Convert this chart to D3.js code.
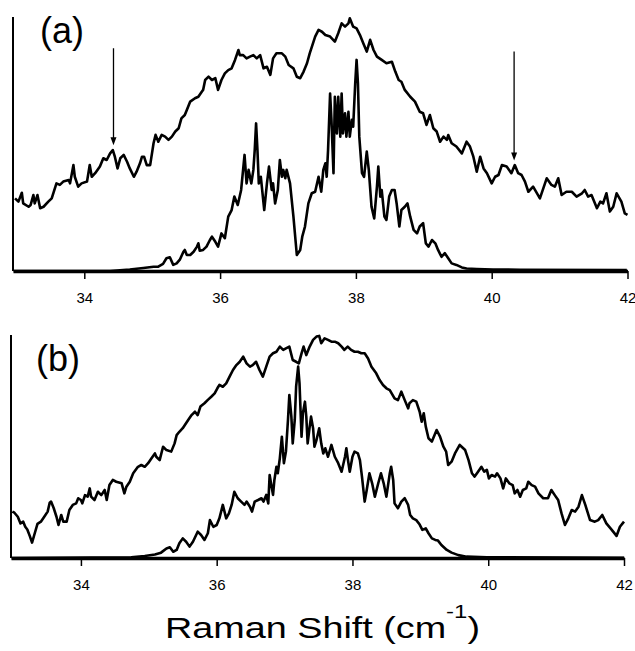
<!DOCTYPE html>
<html>
<head>
<meta charset="utf-8">
<script src="https://cdn.jsdelivr.net/npm/d3@7"></script>
<style>
  body { margin: 0; background: #fff; }
  svg text { font-family: "Liberation Sans", Arial, sans-serif; fill: #000; }
</style>
</head>
<body>
<div id="chart"></div>
<script>
// tick labels (Raman shift, cm^-1)
var xTicks = [34, 36, 38, 40, 42];

// panel (a): broad band (upper) and resolved spectrum (lower), [shift, intensity]
var aBroad = [[32.98,28.6],[33.03,27.3],[33.08,30.8],[33.10,26.6],[33.18,25.3],[33.21,26.0],[33.25,29.9],[33.27,26.6],[33.31,29.9],[33.35,24.7],[33.40,25.3],[33.47,27.3],[33.52,28.6],[33.59,34.5],[33.64,33.9],[33.69,35.2],[33.77,35.8],[33.79,34.5],[33.84,41.7],[33.86,37.1],[33.91,33.2],[33.96,34.5],[34.04,35.2],[34.08,41.7],[34.11,37.1],[34.16,38.5],[34.23,41.1],[34.28,44.4],[34.33,43.7],[34.38,46.3],[34.42,47.6],[34.45,45.0],[34.49,40.4],[34.53,44.4],[34.58,45.7],[34.63,43.0],[34.67,40.4],[34.73,37.1],[34.77,39.1],[34.82,42.4],[34.85,45.0],[34.88,45.0],[34.92,41.7],[34.97,41.7],[35.02,50.3],[35.05,53.6],[35.09,50.9],[35.14,53.6],[35.19,52.9],[35.24,51.6],[35.29,52.9],[35.34,54.9],[35.39,56.2],[35.43,60.1],[35.48,61.4],[35.51,63.4],[35.56,66.7],[35.63,68.0],[35.68,68.6],[35.73,70.6],[35.75,71.3],[35.78,75.2],[35.83,76.5],[35.88,75.2],[35.93,75.9],[35.97,71.3],[36.02,75.2],[36.07,77.8],[36.12,79.1],[36.17,79.8],[36.22,83.1],[36.27,87.0],[36.29,85.0],[36.34,85.0],[36.39,83.7],[36.44,84.4],[36.49,85.0],[36.54,83.7],[36.59,85.0],[36.64,79.8],[36.69,80.4],[36.74,77.2],[36.78,83.7],[36.83,85.7],[36.91,85.7],[36.96,84.4],[37.01,81.1],[37.08,79.8],[37.13,76.5],[37.18,75.9],[37.23,78.5],[37.28,81.8],[37.32,85.7],[37.40,92.3],[37.45,94.9],[37.50,94.2],[37.55,92.9],[37.62,92.3],[37.69,90.3],[37.74,93.6],[37.79,97.5],[37.84,96.2],[37.89,97.5],[37.91,99.5],[37.96,96.2],[38.01,95.5],[38.06,92.9],[38.11,89.6],[38.16,86.4],[38.21,91.0],[38.26,87.0],[38.31,84.4],[38.38,83.1],[38.45,81.8],[38.53,82.4],[38.58,78.5],[38.63,75.2],[38.67,74.5],[38.72,71.3],[38.80,68.6],[38.87,66.7],[38.94,62.7],[38.99,62.1],[39.04,57.5],[39.09,61.4],[39.14,56.2],[39.19,54.9],[39.24,50.9],[39.29,52.9],[39.34,51.6],[39.36,53.5],[39.41,50.3],[39.48,49.0],[39.56,46.3],[39.63,50.9],[39.68,49.0],[39.73,45.0],[39.78,39.1],[39.83,45.0],[39.88,40.4],[39.93,38.5],[40.00,34.5],[40.05,37.1],[40.10,37.8],[40.15,41.7],[40.22,41.1],[40.29,38.5],[40.34,41.7],[40.39,38.5],[40.44,37.8],[40.49,35.2],[40.54,31.2],[40.61,33.2],[40.71,28.6],[40.76,32.5],[40.81,36.5],[40.88,33.9],[40.93,33.2],[40.98,36.5],[41.03,29.9],[41.10,31.2],[41.18,31.2],[41.25,29.3],[41.33,30.6],[41.37,31.9],[41.42,29.3],[41.47,29.9],[41.55,24.7],[41.60,27.3],[41.64,26.6],[41.69,30.6],[41.74,23.4],[41.79,25.3],[41.84,30.6],[41.91,27.3],[41.96,22.7],[42.00,22.1]];

var aSharp = [[32.96,0],[34.38,0],[34.67,0.6],[34.87,1.2],[35.02,1.7],[35.09,1.7],[35.16,2.8],[35.21,5.0],[35.26,5.4],[35.31,2.4],[35.36,3.0],[35.41,4.6],[35.46,7.6],[35.48,8.3],[35.51,6.3],[35.56,6.3],[35.61,7.6],[35.66,9.6],[35.68,10.9],[35.70,8.0],[35.75,8.3],[35.80,9.6],[35.85,12.2],[35.88,13.5],[35.93,11.5],[35.97,9.6],[36.02,14.8],[36.07,12.9],[36.12,21.4],[36.17,24.0],[36.21,29.3],[36.26,26.0],[36.31,31.9],[36.36,45.7],[36.39,34.5],[36.42,39.8],[36.46,34.5],[36.49,39.8],[36.51,47.6],[36.53,58.1],[36.55,47.6],[36.57,34.5],[36.60,37.1],[36.65,24.0],[36.69,34.5],[36.72,41.1],[36.76,31.9],[36.78,34.5],[36.81,26.6],[36.85,31.9],[36.88,43.7],[36.91,37.1],[36.93,39.8],[36.96,36.5],[36.98,39.8],[37.03,34.5],[37.08,21.4],[37.13,6.3],[37.18,8.3],[37.21,13.5],[37.25,17.5],[37.30,26.6],[37.35,30.6],[37.40,31.2],[37.45,37.1],[37.49,31.2],[37.52,39.8],[37.55,42.4],[37.57,37.1],[37.59,47.6],[37.62,69.9],[37.64,59.5],[37.67,38.5],[37.69,68.6],[37.72,54.2],[37.74,68.6],[37.77,52.9],[37.79,69.9],[37.81,54.2],[37.84,62.1],[37.86,52.9],[37.89,62.7],[37.91,52.9],[37.94,59.5],[37.96,56.8],[37.99,73.9],[38.01,83.1],[38.03,73.9],[38.05,52.9],[38.09,38.5],[38.12,37.1],[38.16,47.0],[38.19,39.8],[38.23,25.3],[38.27,20.7],[38.31,33.2],[38.33,41.1],[38.36,29.3],[38.38,31.9],[38.42,21.4],[38.45,20.1],[38.49,29.3],[38.53,31.9],[38.57,31.9],[38.60,26.6],[38.64,17.5],[38.67,24.0],[38.72,25.3],[38.76,26.6],[38.80,21.4],[38.85,16.2],[38.90,14.8],[38.94,17.5],[38.99,18.8],[39.03,10.9],[39.07,9.6],[39.12,12.2],[39.17,10.9],[39.21,8.3],[39.26,5.6],[39.31,7.0],[39.36,5.0],[39.41,3.0],[39.48,2.4],[39.56,1.4],[39.63,1.0],[39.78,0.8],[40.02,0.6],[40.42,0.5],[41.99,0.4]];

// panel (b)
var bBroad = [[32.99,20.8],[33.02,20.3],[33.07,18.5],[33.11,15.5],[33.15,16.3],[33.18,14.0],[33.21,12.8],[33.25,9.6],[33.28,6.9],[33.32,11.1],[33.36,15.3],[33.41,16.3],[33.46,18.5],[33.51,20.8],[33.54,24.8],[33.56,25.3],[33.60,22.3],[33.64,18.5],[33.67,14.8],[33.71,19.3],[33.74,16.3],[33.79,16.3],[33.83,21.5],[33.88,23.8],[33.93,24.5],[33.96,26.8],[34.00,26.0],[34.02,24.5],[34.06,28.2],[34.10,27.5],[34.13,31.2],[34.15,27.5],[34.20,26.0],[34.25,29.7],[34.30,28.2],[34.35,30.5],[34.38,26.0],[34.42,32.7],[34.47,35.0],[34.52,34.2],[34.60,33.5],[34.64,29.0],[34.67,32.0],[34.72,34.2],[34.77,38.0],[34.84,40.9],[34.89,41.7],[34.94,40.9],[34.99,42.5],[35.04,44.7],[35.09,46.9],[35.11,45.4],[35.16,43.9],[35.21,49.9],[35.26,48.4],[35.33,47.7],[35.38,51.4],[35.41,55.1],[35.45,56.6],[35.50,58.2],[35.58,61.9],[35.63,64.1],[35.68,65.6],[35.72,64.1],[35.76,67.9],[35.82,69.4],[35.87,70.9],[35.92,72.3],[35.97,73.8],[36.01,76.1],[36.04,77.6],[36.09,76.8],[36.14,78.3],[36.19,81.3],[36.24,84.3],[36.29,86.5],[36.34,88.0],[36.39,90.3],[36.44,87.3],[36.49,85.8],[36.53,86.5],[36.58,88.0],[36.63,84.3],[36.68,81.3],[36.73,85.8],[36.78,90.3],[36.83,91.8],[36.88,92.5],[36.93,94.8],[36.98,93.3],[37.02,94.0],[37.07,94.8],[37.12,88.8],[37.17,88.0],[37.21,87.3],[37.25,91.8],[37.28,94.8],[37.32,91.0],[37.37,94.8],[37.42,97.8],[37.47,99.3],[37.51,99.6],[37.54,96.3],[37.59,98.5],[37.64,97.8],[37.69,97.0],[37.74,97.0],[37.79,96.3],[37.84,94.8],[37.88,93.3],[37.93,94.8],[37.98,93.3],[38.03,92.5],[38.08,92.5],[38.13,91.8],[38.18,91.8],[38.23,89.5],[38.28,85.8],[38.35,82.8],[38.40,79.8],[38.45,77.6],[38.50,76.1],[38.55,75.3],[38.62,71.6],[38.67,70.8],[38.72,74.6],[38.77,70.8],[38.82,67.1],[38.84,69.4],[38.89,70.8],[38.94,70.1],[38.99,65.6],[39.02,61.1],[39.05,64.9],[39.08,58.9],[39.12,53.7],[39.17,52.2],[39.24,57.4],[39.29,54.4],[39.34,49.9],[39.38,47.7],[39.41,41.7],[39.46,43.2],[39.51,46.9],[39.58,50.7],[39.66,48.4],[39.71,43.9],[39.76,38.0],[39.80,36.5],[39.85,38.7],[39.90,40.9],[39.94,38.7],[39.98,39.5],[40.01,35.7],[40.05,37.2],[40.10,36.5],[40.13,38.0],[40.18,35.7],[40.22,31.2],[40.26,35.7],[40.31,33.5],[40.36,32.7],[40.39,29.0],[40.43,30.5],[40.47,27.5],[40.51,30.5],[40.56,31.2],[40.59,34.2],[40.64,32.7],[40.69,32.0],[40.74,29.0],[40.81,26.8],[40.88,26.8],[40.93,30.5],[40.98,28.2],[41.03,26.0],[41.08,20.0],[41.13,14.8],[41.18,17.8],[41.23,21.5],[41.28,20.8],[41.33,23.0],[41.38,28.2],[41.43,23.8],[41.50,17.0],[41.57,16.3],[41.62,17.0],[41.68,19.3],[41.74,15.5],[41.82,12.6],[41.89,9.9],[41.94,14.0],[42.00,16.3]];

var bSharp = [[32.98,0],[34.74,0.3],[34.94,0.9],[35.09,1.6],[35.18,2.4],[35.26,4.3],[35.31,4.8],[35.36,2.8],[35.41,3.6],[35.45,6.6],[35.50,8.8],[35.55,7.3],[35.60,5.1],[35.65,7.3],[35.72,11.8],[35.77,10.3],[35.82,8.1],[35.87,11.1],[35.90,17.0],[35.95,14.0],[36.00,14.8],[36.04,17.8],[36.09,23.8],[36.14,17.8],[36.18,20.0],[36.22,23.8],[36.26,29.7],[36.31,26.8],[36.36,25.3],[36.41,23.8],[36.44,25.3],[36.49,23.0],[36.52,20.8],[36.56,25.3],[36.61,26.0],[36.66,26.8],[36.69,25.3],[36.73,28.3],[36.76,24.5],[36.78,37.2],[36.80,33.5],[36.83,28.3],[36.85,35.0],[36.88,40.9],[36.90,38.0],[36.93,44.7],[36.96,54.4],[36.99,42.5],[37.02,47.7],[37.05,61.9],[37.07,73.1],[37.10,63.4],[37.12,51.4],[37.15,61.9],[37.17,76.8],[37.20,85.8],[37.22,78.3],[37.25,54.4],[37.27,64.9],[37.30,70.1],[37.32,63.4],[37.34,51.4],[37.37,58.9],[37.39,63.4],[37.42,58.2],[37.44,49.9],[37.47,52.9],[37.51,58.2],[37.54,51.4],[37.57,46.9],[37.60,49.2],[37.64,45.4],[37.69,50.7],[37.74,45.4],[37.79,42.5],[37.84,38.7],[37.89,45.4],[37.91,49.2],[37.93,44.7],[37.96,38.7],[38.00,45.4],[38.03,47.7],[38.08,46.9],[38.11,43.9],[38.14,36.5],[38.18,25.3],[38.21,30.5],[38.25,38.0],[38.29,33.5],[38.33,27.5],[38.38,33.5],[38.42,38.0],[38.46,33.5],[38.50,27.5],[38.55,38.0],[38.57,40.9],[38.60,35.0],[38.62,24.5],[38.67,22.3],[38.72,25.3],[38.77,26.8],[38.82,23.8],[38.85,19.3],[38.89,17.8],[38.94,17.0],[38.99,15.0],[39.03,12.6],[39.08,13.3],[39.12,11.1],[39.17,8.8],[39.22,8.1],[39.26,7.8],[39.31,5.8],[39.39,3.6],[39.46,2.4],[39.56,1.3],[39.68,0.6],[39.98,0.3],[42.00,0.1]];

// arrows in (a): [shift, top intensity, tip intensity]
var aArrows = [[34.43, 87.7, 49.5], [40.33, 86.4, 43.5]];

var width = 635, height = 651;

var svg = d3.select('#chart')
            .append('svg')
            .attr('width', width)
            .attr('height', height);

var panels = [
    {label: "(a)", broad: aBroad, sharp: aSharp, arrows: aArrows,
     domain: [32.95, 42], left: 13, right: 627.5, top: 17, bottom: 271, lx: 40, ly: 43},
    {label: "(b)", broad: bBroad, sharp: bSharp, arrows: [],
     domain: [32.97, 42], left: 11, right: 624, top: 335, bottom: 558, lx: 36, ly: 371}
];

panels.forEach(function(p) {
    var xScale = d3.scaleLinear().domain(p.domain).range([p.left, p.right]);
    var yScale = d3.scaleLinear().domain([0, 100]).range([p.bottom, p.top]);

    var line = d3.line()
                .x(d => xScale(d[0]))
                .y(d => yScale(d[1]))
                .curve(d3.curveLinear);

    var g = svg.append('g');

    // y axis: plain line, no ticks
    g.append('line')
        .attr('x1', p.left).attr('x2', p.left)
        .attr('y1', p.top).attr('y2', p.bottom)
        .attr('stroke', '#000')
        .attr('stroke-width', 2);

    [p.sharp, p.broad].forEach(function(series) {
        g.append('path')
            .attr('d', line(series))
            .attr('fill', 'none')
            .attr('stroke', '#000')
            .attr('stroke-width', 2.6)
            .attr('stroke-linejoin', 'round');
    });

    var xAxis = d3.axisBottom(xScale)
                    .tickValues(xTicks)
                    .tickSize(8)
                    .tickSizeOuter(0)
                    .tickPadding(13);

    var ax = g.append('g')
        .attr('transform', `translate(0,${p.bottom})`)
        .call(xAxis);
    ax.select('.domain').attr('stroke-width', 3.5);
    ax.selectAll('.tick line').attr('stroke-width', 1.5);
    ax.selectAll('.tick text')
        .attr('font-size', 15)
        .attr('font-family', '"Liberation Sans", Arial, sans-serif');

    // arrows
    p.arrows.forEach(function(a) {
        var x = xScale(a[0]), y0 = yScale(a[1]), y1 = yScale(a[2]);
        g.append('line')
            .attr('x1', x).attr('x2', x)
            .attr('y1', y0).attr('y2', y1 - 6)
            .attr('stroke', '#000')
            .attr('stroke-width', 1.3);
        g.append('path')
            .attr('d', `M${x - 3},${y1 - 8}L${x + 3},${y1 - 8}L${x},${y1}Z`)
            .attr('fill', '#000');
    });

    g.append('text')
        .attr('x', p.lx)
        .attr('y', p.ly)
        .attr('font-size', 36)
        .text(p.label);
});

var title = svg.append('text')
    .attr('x', 165)
    .attr('y', 638)
    .attr('font-size', 30)
    .attr('textLength', 315)
    .attr('lengthAdjust', 'spacingAndGlyphs');
title.append('tspan').text('Raman Shift (cm');
title.append('tspan').attr('dy', -20).attr('font-size', 19).text('-1');
title.append('tspan').attr('dy', 20).text(')');
</script>
</body>
</html>
